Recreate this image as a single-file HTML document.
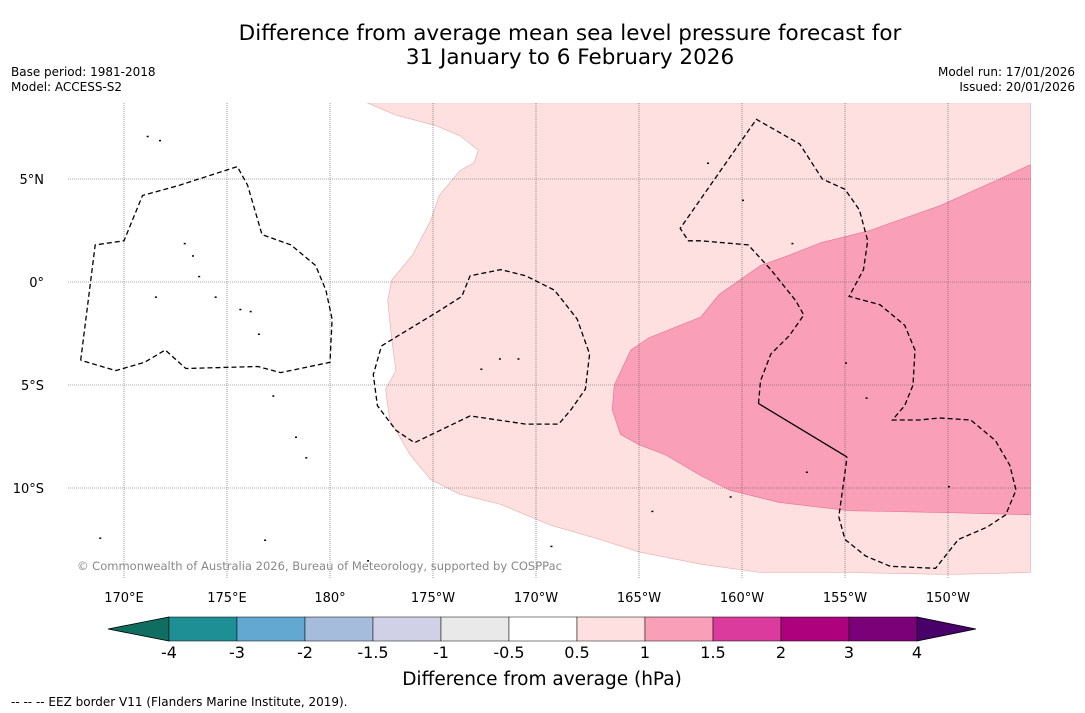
<!DOCTYPE html>
<html><head><meta charset="utf-8"><style>
body{margin:0;background:#fff;font-family:"Liberation Sans","DejaVu Sans",sans-serif;}
#wrap{position:relative;width:1085px;height:713px;overflow:hidden;background:#fff;}
.t{position:absolute;color:#000;}
</style></head><body>
<div id="wrap">
<div class="t" style="left:0;width:1140px;top:22px;text-align:center;font-size:21.5px;line-height:24px;font-family:'DejaVu Sans',sans-serif;">Difference from average mean sea level pressure forecast for<br>31 January to 6 February 2026</div>
<div class="t" style="left:11px;top:65px;font-size:12px;line-height:15px;font-family:'DejaVu Sans',sans-serif;">Base period: 1981-2018<br>Model: ACCESS-S2</div>
<div class="t" style="right:10px;top:65px;font-size:12px;line-height:15px;text-align:right;font-family:'DejaVu Sans',sans-serif;">Model run: 17/01/2026<br>Issued: 20/01/2026</div>
<svg id="svg" width="1085" height="713" style="position:absolute;left:0;top:0"></svg>
<div class="t" style="left:11px;top:695px;font-size:12px;font-family:'DejaVu Sans',sans-serif;">--  --  -- EEZ border V11 (Flanders Marine Institute, 2019).</div>
</div>
<script>
const lonTicks=[170,175,180,185,190,195,200,205,210];
const lonLabels=["170°E","175°E","180°","175°W","170°W","165°W","160°W","155°W","150°W"];
const latTicks=[5,0,-5,-10];
const latLabels=["5°N","0°","5°S","10°S"];
const anomLight=[[181.8,8.7],[183.2,8.1],[185.1,7.6],[186.3,7.1],[187.2,6.4],[187.0,5.8],[186.3,5.4],[185.3,4.2],[184.9,3.0],[184.0,1.3],[183.0,0.1],[182.8,-0.9],[183.0,-2.8],[183.2,-4.3],[182.7,-5.2],[182.9,-6.7],[183.9,-8.4],[184.9,-9.6],[186.3,-10.3],[188.3,-10.8],[190.7,-11.8],[193.1,-12.5],[195.0,-13.1],[198.0,-13.7],[200.9,-14.1],[205.2,-14.1],[210.1,-14.2],[214.0,-14.1],[214.0,8.7]];
const anomMid=[[214.0,5.7],[212.5,5.0],[209.6,3.7],[206.2,2.5],[203.8,1.9],[202.3,1.3],[200.9,0.8],[198.9,-0.6],[198.0,-1.7],[195.5,-2.7],[194.6,-3.3],[193.8,-5.0],[193.7,-6.2],[194.1,-7.4],[195.0,-7.9],[196.3,-8.4],[198.0,-9.4],[199.4,-10.1],[201.8,-10.7],[205.2,-11.1],[210.1,-11.2],[214.0,-11.3]];
const eezWest=[[167.9,-3.8],[168.6,1.8],[170.0,2.0],[170.9,4.2],[172.7,4.7],[175.5,5.6],[176.0,4.7],[176.7,2.3],[178.1,1.8],[179.3,0.8],[179.8,-0.4],[180.1,-1.8],[180.0,-3.9],[177.6,-4.4],[176.5,-4.1],[173.0,-4.2],[172.0,-3.3],[171.0,-3.9],[169.6,-4.3],[167.9,-3.8]];
const eezPhoenix=[[182.5,-3.1],[185.3,-1.4],[186.4,-0.7],[186.8,0.3],[188.3,0.6],[189.5,0.3],[190.9,-0.4],[192.0,-1.8],[192.6,-3.5],[192.4,-5.2],[191.7,-6.2],[191.1,-6.9],[189.5,-6.9],[186.8,-6.5],[184.1,-7.8],[183.2,-7.2],[182.3,-6.0],[182.1,-4.5],[182.5,-3.1]];
const eezLine=[[200.8,-5.9],[200.9,-4.8],[201.4,-3.5],[202.3,-2.6],[203.0,-1.6],[202.6,-0.9],[201.4,0.6],[200.3,1.8],[198.0,2.0],[197.4,2.0],[197.0,2.6],[200.7,7.9],[202.8,6.7],[203.9,5.0],[205.0,4.5],[205.7,3.5],[206.1,2.0],[205.9,0.6],[205.2,-0.7],[206.7,-1.1],[207.9,-2.1],[208.4,-3.3],[208.3,-5.0],[207.9,-6.0],[207.3,-6.7],[208.6,-6.7],[209.6,-6.6],[211.1,-6.7],[212.3,-7.7],[213.0,-8.9],[213.3,-10.1],[212.8,-11.3],[211.9,-11.9],[210.5,-12.5],[209.4,-13.9],[207.2,-13.8],[206.0,-13.3],[205.0,-12.5],[204.7,-11.4],[205.1,-8.5]];
const eezSolid=[[200.8,-5.9],[205.1,-8.5]];
const islands=[[171.1,7.1],[171.7,6.9],[171.5,-0.7],[172.9,1.9],[173.3,1.3],[173.6,0.3],[174.4,-0.7],[175.6,-1.3],[176.1,-1.4],[176.5,-2.5],[177.2,-5.5],[178.3,-7.5],[178.8,-8.5],[181.8,-13.5],[187.3,-4.2],[188.2,-3.7],[189.1,-3.7],[190.7,-12.8],[195.6,-11.1],[199.4,-10.4],[200.0,4.0],[202.4,1.9],[205.0,-3.9],[206.0,-5.6],[210.0,-9.9],[203.1,-9.2],[198.3,5.8],[166.8,-9.9],[168.8,-12.4],[176.8,-12.5],[166.5,-13.3],[166.4,-14.1]];
const cbBounds=["-4","-3","-2","-1.5","-1","-0.5","0.5","1","1.5","2","3","4"];
const cbColors=["#1d8f95","#62a8d1","#a6bcdc","#d0d1e6","#e9e9e9","#ffffff","#fde0df","#f99fb7","#db3b9d","#ae017e","#7a0177"];
const cbLow="#0f6e5f", cbHigh="#49006a";

const svg=document.getElementById('svg');const NS="http://www.w3.org/2000/svg";
function mk(t,a,p){const e=document.createElementNS(NS,t);for(const k in a)e.setAttribute(k,a[k]);(p||svg).appendChild(e);return e;}
const X=lon=>124+(lon-170)*20.6, Y=lat=>282-lat*20.6;
const pts=arr=>arr.map(p=>X(p[0]).toFixed(1)+","+Y(p[1]).toFixed(1)).join(" ");
const clip=mk('clipPath',{id:'mc'});mk('rect',{x:68,y:103,width:963,height:475},clip);
const g=mk('g',{'clip-path':'url(#mc)'});
let e;
e=mk('polygon',{points:pts(anomLight),fill:'#fde0df',stroke:'#e8a8a8','stroke-width':0.6},g);

e=mk('polygon',{points:pts(anomMid)+" "+X(214)+","+Y(5.7),fill:'#f99fb7',stroke:'#e56f90','stroke-width':0.6},g);

lonTicks.forEach((l,i)=>{
  e=mk('line',{x1:X(l),x2:X(l),y1:103,y2:578,stroke:'#555','stroke-width':0.6,'stroke-dasharray':'1,1'},g);
  
  e=mk('text',{x:X(l),y:602,'font-size':13,'text-anchor':'middle','font-family':'DejaVu Sans, sans-serif'});e.textContent=lonLabels[i];
  
});
latTicks.forEach((l,i)=>{
  e=mk('line',{x1:68,x2:1031,y1:Y(l),y2:Y(l),stroke:'#555','stroke-width':0.6,'stroke-dasharray':'1,1'},g);
  
  e=mk('text',{x:44,y:Y(l)+5,'font-size':13,'text-anchor':'end','font-family':'DejaVu Sans, sans-serif'});e.textContent=latLabels[i];
  
});
islands.forEach(p=>{e=mk('rect',{x:X(p[0]),y:Y(p[1]),width:2,height:1.5,fill:'#000'},g);
  });
[eezWest,eezPhoenix,eezLine].forEach(a=>{e=mk('polyline',{points:pts(a),fill:'none',stroke:'#000','stroke-width':1.3,'stroke-dasharray':'5,3'},g);
  });
e=mk('polyline',{points:pts(eezSolid),fill:'none',stroke:'#000','stroke-width':1.3},g);

e=mk('text',{x:77,y:570,'font-size':11.5,fill:'#888','font-family':'DejaVu Sans, sans-serif',textLength:485});
e.textContent="© Commonwealth of Australia 2026, Bureau of Meteorology, supported by COSPPac";

// colorbar
const cx0=169,cx1=917,cy0=617,cy1=641,n=cbColors.length,w=(cx1-cx0)/n;
e=mk('polygon',{points:`108,629 ${cx0},${cy0} ${cx0},${cy1}`,fill:cbLow,stroke:'#000','stroke-width':0.8});

e=mk('polygon',{points:`976,629 ${cx1},${cy0} ${cx1},${cy1}`,fill:cbHigh,stroke:'#000','stroke-width':0.8});

cbColors.forEach((c,i)=>{e=mk('rect',{x:cx0+i*w,y:cy0,width:w,height:cy1-cy0,fill:c,stroke:'#000','stroke-width':0.5});
  });
cbBounds.forEach((b,i)=>{e=mk('text',{x:cx0+i*w,y:658,'font-size':16,'text-anchor':'middle','font-family':'DejaVu Sans, sans-serif'});e.textContent=b;
  });
e=mk('text',{x:542,y:685,'font-size':18.5,'text-anchor':'middle','font-family':'DejaVu Sans, sans-serif'});e.textContent="Difference from average (hPa)";

</script>
</body></html>
